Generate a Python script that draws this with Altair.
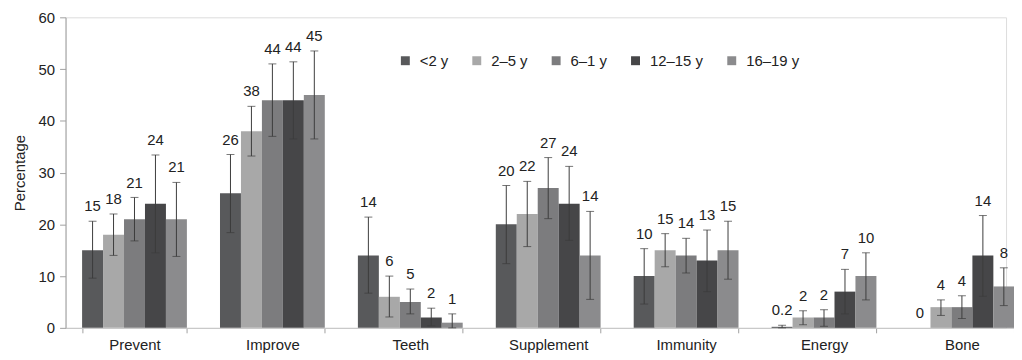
import altair as alt
import pandas as pd

categories = ["Prevent", "Improve", "Teeth", "Supplement", "Immunity", "Energy", "Bone"]
groups = ["<2 y", "2–5 y", "6–1 y", "12–15 y", "16–19 y"]
colors = ["#58595b", "#a8a8a8", "#7c7c7e", "#464648", "#8b8b8d"]

val_lt2 = [15, 26, 14, 20, 10, 0.2, 0]
lo_lt2 = [9.6, 18.4, 6.7, 12.4, 4.6, 0, 0]
hi_lt2 = [20.6, 33.5, 21.4, 27.5, 15.3, 0.5, 0]

val_2_5 = [18, 38, 6, 22, 15, 2, 4]
lo_2_5 = [14, 33.2, 2.1, 15.7, 11.8, 0.6, 2.4]
hi_2_5 = [22, 42.8, 10, 28.3, 18.2, 3.3, 5.4]

val_6_1 = [21, 44, 5, 27, 14, 2, 4]
lo_6_1 = [16.8, 37, 2.7, 21.1, 10.6, 0.3, 1.8]
hi_6_1 = [25.2, 51, 7.5, 32.9, 17.3, 3.5, 6.2]

val_12_15 = [24, 44, 2, 24, 13, 7, 14]
lo_12_15 = [14.5, 36.5, 0.4, 16.9, 7.0, 2.7, 6.1]
hi_12_15 = [33.4, 51.4, 3.8, 31.2, 18.9, 11.3, 21.7]

val_16_19 = [21, 45, 1, 14, 15, 10, 8]
lo_16_19 = [13.8, 36.5, 0, 5.5, 9.4, 5.4, 4.3]
hi_16_19 = [28.1, 53.5, 2.7, 22.5, 20.6, 14.5, 11.6]

series = [
    (val_lt2, lo_lt2, hi_lt2),
    (val_2_5, lo_2_5, hi_2_5),
    (val_6_1, lo_6_1, hi_6_1),
    (val_12_15, lo_12_15, hi_12_15),
    (val_16_19, lo_16_19, hi_16_19),
]

rows = []
for g, (vals, los, his) in zip(groups, series):
    for c, v, lo, hi in zip(categories, vals, los, his):
        rows.append({
            "category": c, "group": g, "value": v, "lo": lo, "hi": hi,
            "laby": max(hi, v),
            "label": (str(v) if v != int(v) else str(int(v))),
        })
df = pd.DataFrame(rows)

FONT = "Liberation Sans"
x_enc = alt.X("category:N", sort=categories, title=None,
              scale=alt.Scale(paddingInner=0.24, paddingOuter=0.12, range=[0, 973]),
              axis=alt.Axis(labelAngle=0, tickBand="extent", domainColor="#c4c4c4",
                            tickColor="#a0a0a0", tickSize=5, labelPadding=5,
                            labelFontSize=15, labelColor="#222222", labelFont=FONT))
xo_enc = alt.XOffset("group:N", sort=groups, scale=alt.Scale(paddingInner=0, paddingOuter=0))
y_scale = alt.Scale(domain=[0, 60], nice=False)

base = alt.Chart(df)

bars = base.mark_bar().encode(
    x=x_enc,
    xOffset=xo_enc,
    y=alt.Y("value:Q", scale=y_scale, title="Percentage",
            axis=alt.Axis(values=[0, 10, 20, 30, 40, 50, 60], grid=False,
                          domainColor="#a0a0a0", tickColor="#a0a0a0", tickSize=6,
                          labelPadding=5, labelFontSize=15, labelColor="#222222",
                          labelFont=FONT, titleFont=FONT, titleFontSize=15,
                          titleFontWeight="normal", titleColor="#222222",
                          titlePadding=11)),
    color=alt.Color("group:N", sort=groups,
                    scale=alt.Scale(domain=groups, range=colors),
                    legend=alt.Legend(title=None, orient="none", direction="horizontal",
                                      legendX=335, legendY=36, symbolType="square",
                                      symbolSize=81, symbolStrokeWidth=0,
                                      labelFontSize=15, labelFont=FONT,
                                      labelColor="#222222", labelOffset=7,
                                      columnPadding=21, padding=0)),
)

err = base.transform_filter("datum.hi > datum.lo")

rules = err.mark_rule(color="#3c3c3c", strokeWidth=1).encode(
    x=x_enc, xOffset=xo_enc,
    y=alt.Y("lo:Q", scale=y_scale), y2="hi:Q",
)
cap_hi = err.mark_tick(color="#3c3c3c", thickness=1, size=8, orient="horizontal").encode(
    x=x_enc, xOffset=xo_enc, y=alt.Y("hi:Q", scale=y_scale),
)
cap_lo = err.mark_tick(color="#3c3c3c", thickness=1, size=8, orient="horizontal").encode(
    x=x_enc, xOffset=xo_enc, y=alt.Y("lo:Q", scale=y_scale),
)
labels = base.mark_text(baseline="bottom", dy=-7, fontSize=15, font=FONT,
                        color="#222222").encode(
    x=x_enc, xOffset=xo_enc, y=alt.Y("laby:Q", scale=y_scale), text="label:N",
)

chart = alt.layer(bars, rules, cap_hi, cap_lo, labels).properties(
    width=948, height=313,
    autosize=alt.AutoSizeParams(type="none"),
    padding={"left": 58, "top": 8, "right": 8, "bottom": 29},
).configure_view(stroke=None).configure(font=FONT)

chart.save("out.html", embed_options={"renderer": "svg", "actions": False})
